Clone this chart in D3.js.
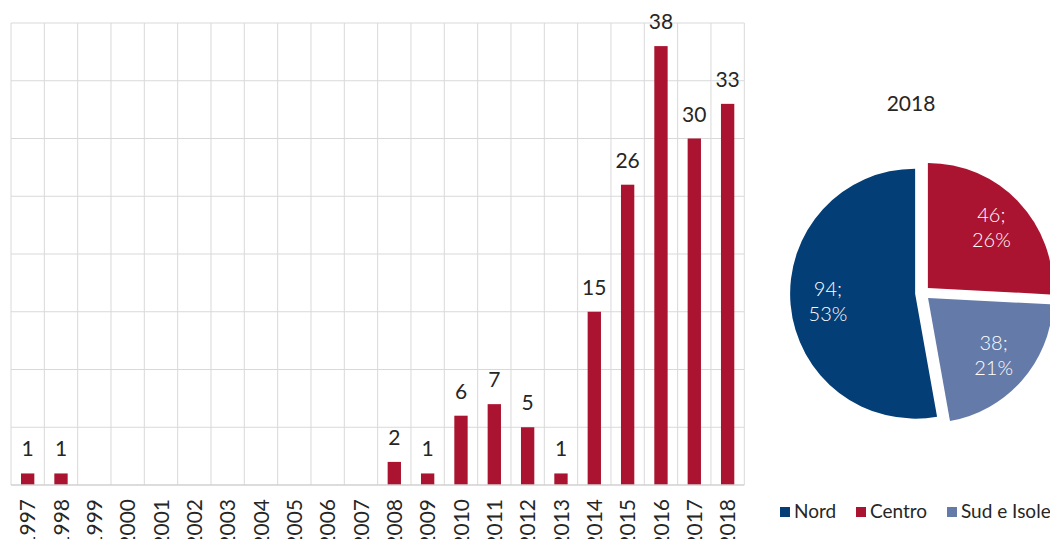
<!DOCTYPE html>
<html>
<head>
<meta charset="utf-8">
<script src="https://cdn.jsdelivr.net/npm/d3@7"></script>
<style>
  html, body { margin: 0; padding: 0; background: #fff; }
  svg { display: block; font-family: Lato, "Open Sans", sans-serif; }
</style>
</head>
<body>
<svg id="chart" width="1050" height="539"></svg>
<script>
// ---- data ----
const years = ["1997","1998","1999","2000","2001","2002","2003","2004","2005","2006","2007","2008","2009","2010","2011","2012","2013","2014","2015","2016","2017","2018"];
const counts = [1,1,0,0,0,0,0,0,0,0,0,2,1,6,7,5,1,15,26,38,30,33];
const yTicks = [0,5,10,15,20,25,30,35,40];

const pieTitle = "2018";
const regions = ["Nord","Centro","Sud e Isole"];
const regionValues = [94,46,38];
const regionColors = ["#033e76","#ab1430","#647aa8"];

// ---- layout ----
const svg = d3.select("#chart");
const plot = {left: 11, right: 744.3, top: 23, bottom: 485};
const barColor = "#ab1430";
const textColor = "#262626";
const gridColor = "#d9d9d9";

const x = d3.scaleBand().domain(years).range([plot.left, plot.right]).padding(0);
const y = d3.scaleLinear().domain([0, 40]).range([plot.bottom, plot.top]);

const g = svg.append("g");

// horizontal gridlines
g.selectAll("line.hgrid").data(yTicks.filter(t => t > 0)).enter().append("line")
  .attr("x1", plot.left).attr("x2", plot.right)
  .attr("y1", d => y(d)).attr("y2", d => y(d))
  .attr("stroke", gridColor).attr("stroke-width", 1);

// vertical gridlines (category boundaries)
const bounds = years.map(d => x(d)).concat([plot.right]);
g.selectAll("line.vgrid").data(bounds).enter().append("line")
  .attr("x1", d => d).attr("x2", d => d)
  .attr("y1", plot.top).attr("y2", plot.bottom)
  .attr("stroke", gridColor).attr("stroke-width", 1);

// bars
const bw = x.bandwidth() * 0.4;
g.selectAll("rect.bar").data(years.map((yr, i) => ({yr, v: counts[i]})).filter(d => d.v > 0))
  .enter().append("rect")
  .attr("x", d => x(d.yr) + (x.bandwidth() - bw) / 2)
  .attr("width", bw)
  .attr("y", d => y(d.v))
  .attr("height", d => y(0) - y(d.v))
  .attr("fill", barColor);

// baseline
g.append("line")
  .attr("x1", plot.left).attr("x2", plot.right)
  .attr("y1", y(0)).attr("y2", y(0))
  .attr("stroke", "#d0d0d0").attr("stroke-width", 1.5);

// value labels
g.selectAll("text.val").data(years.map((yr, i) => ({yr, v: counts[i]})).filter(d => d.v > 0))
  .enter().append("text")
  .attr("x", d => x(d.yr) + x.bandwidth() / 2)
  .attr("y", d => y(d.v) - 17)
  .attr("text-anchor", "middle")
  .attr("font-size", 21)
  .attr("fill", textColor)
  .text(d => d.v);

// x axis labels
const xAxis = d3.axisBottom(x).tickSize(0).tickPadding(0);
const ax = g.append("g").attr("transform", `translate(0,${plot.bottom})`).call(xAxis);
ax.select(".domain").remove();
ax.selectAll("text")
  .attr("transform", "rotate(-90)")
  .attr("x", -14).attr("y", 0).attr("dy", "0.36em")
  .attr("text-anchor", "end")
  .attr("font-size", 21)
  .attr("font-family", "Lato, 'Open Sans', sans-serif")
  .attr("fill", textColor);

// ---- pie ----
const total = d3.sum(regionValues);
const pcx = 922.5, pcy = 293, r = 125, explode = 7.4;
const pie = d3.pie().sort(null).value(d => d)
  .startAngle(-2 * Math.PI * regionValues[0] / total)
  .endAngle(2 * Math.PI - 2 * Math.PI * regionValues[0] / total);
const arcs = pie(regionValues);
const arc = d3.arc().innerRadius(0).outerRadius(r);

const pg = svg.append("g").attr("transform", `translate(${pcx},${pcy})`);
arcs.forEach((a, i) => {
  const mid = (a.startAngle + a.endAngle) / 2;
  const ox = Math.sin(mid) * explode, oy = -Math.cos(mid) * explode;
  const sg = pg.append("g").attr("transform", `translate(${ox},${oy})`);
  sg.append("path").attr("d", arc(a)).attr("fill", regionColors[i]);
  const lr = r * 0.7;
  const lx = Math.sin(mid) * lr, ly = -Math.cos(mid) * lr;
  const pct = Math.round(regionValues[i] / total * 100);
  const t = sg.append("text")
    .attr("text-anchor", "middle")
    .attr("font-size", 20)
    .attr("font-weight", 300)
    .attr("fill", "#ffffff");
  t.append("tspan").attr("x", lx).attr("y", ly - 12.5).attr("dy", "0.35em").text(regionValues[i] + ";");
  t.append("tspan").attr("x", lx).attr("y", ly + 12.5).attr("dy", "0.35em").text(pct + "%");
});

// pie title
svg.append("text")
  .attr("x", 911).attr("y", 111)
  .attr("text-anchor", "middle")
  .attr("font-size", 21)
  .attr("fill", textColor)
  .text(pieTitle);

// legend
const legendX = [780, 856, 947];
const lg = svg.append("g");
regions.forEach((name, i) => {
  lg.append("rect").attr("x", legendX[i]).attr("y", 507).attr("width", 10).attr("height", 10)
    .attr("fill", regionColors[i]);
  lg.append("text").attr("x", legendX[i] + 14).attr("y", 518)
    .attr("font-size", 19).attr("fill", textColor).text(name);
});
</script>
</body>
</html>
